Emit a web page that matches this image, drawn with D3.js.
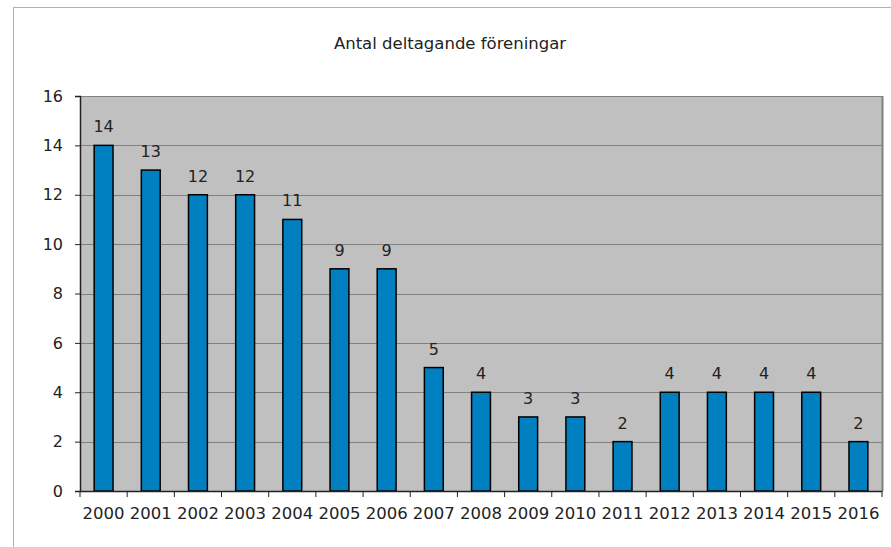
<!DOCTYPE html>
<html>
<head>
<meta charset="utf-8">
<script src="https://cdn.jsdelivr.net/npm/d3@7"></script>
<style>
  body { margin: 0; background: #fff; }
  text { font-family: "DejaVu Sans", Verdana, sans-serif; fill: #222; }
</style>
</head>
<body>
<div id="canvas"></div>
<script>
const width = 891;
const height = 547;

// data
const years = ["2000", "2001", "2002", "2003", "2004", "2005", "2006", "2007", "2008",
  "2009", "2010", "2011", "2012", "2013", "2014", "2015", "2016"];
const counts = [14, 13, 12, 12, 11, 9, 9, 5, 4, 3, 3, 2, 4, 4, 4, 4, 2];
const yTicks = [0, 2, 4, 6, 8, 10, 12, 14, 16];
const title = "Antal deltagande föreningar";

// plot area
const plot = { left: 80, right: 882, top: 96, bottom: 491 };

const svg = d3.select('#canvas').append('svg')
  .attr('width', width)
  .attr('height', height);

// outer chart border (cut off at right and bottom)
svg.append('rect')
  .attr('x', 13.5).attr('y', 7.5)
  .attr('width', width + 10).attr('height', height + 10)
  .attr('fill', 'none')
  .attr('stroke', '#b0b0b0');

const x = d3.scaleBand()
  .domain(years)
  .range([plot.left, plot.right])
  .paddingInner(0)
  .paddingOuter(0);

const y = d3.scaleLinear()
  .domain([0, 16])
  .range([plot.bottom, plot.top]);

// plot background
svg.append('rect')
  .attr('x', plot.left).attr('y', plot.top)
  .attr('width', plot.right - plot.left)
  .attr('height', plot.bottom - plot.top)
  .attr('fill', '#c0c0c0');

// gridlines
svg.append('g').selectAll('line')
  .data(yTicks.filter(d => d > 0))
  .join('line')
  .attr('x1', plot.left).attr('x2', plot.right)
  .attr('y1', d => Math.round(y(d)) + 0.5)
  .attr('y2', d => Math.round(y(d)) + 0.5)
  .attr('stroke', '#808080')
  .attr('stroke-width', 1);

// right border of plot area
svg.append('line')
  .attr('x1', plot.right + 0.5).attr('x2', plot.right + 0.5)
  .attr('y1', plot.top).attr('y2', plot.bottom)
  .attr('stroke', '#808080')
  .attr('stroke-width', 2);

// bars: gap width 150%
const barW = x.bandwidth() / 2.5;
svg.append('g').selectAll('rect')
  .data(counts)
  .join('rect')
  .attr('x', (d, i) => x(years[i]) + (x.bandwidth() - barW) / 2)
  .attr('y', d => y(d))
  .attr('width', barW)
  .attr('height', d => plot.bottom - y(d))
  .attr('fill', '#0080c0')
  .attr('stroke', '#000')
  .attr('stroke-width', 1.5);

// value labels
svg.append('g').selectAll('text')
  .data(counts)
  .join('text')
  .attr('x', (d, i) => x(years[i]) + x.bandwidth() / 2)
  .attr('y', d => y(d) - 13)
  .attr('text-anchor', 'middle')
  .style('font-size', '16px')
  .text(d => d);

// y axis
const yAxis = svg.append('g')
  .attr('transform', `translate(${plot.left},0)`)
  .call(d3.axisLeft(y).tickValues(yTicks).tickSize(5).tickPadding(12));
yAxis.select('.domain').attr('stroke', '#222').attr('stroke-width', 1.5);
yAxis.selectAll('.tick line').attr('stroke', '#222');
yAxis.selectAll('.tick text').style('font-size', '16px').attr('fill', '#222');

// x axis with ticks at category boundaries
const xAxis = svg.append('g')
  .attr('transform', `translate(0,${plot.bottom})`)
  .call(d3.axisBottom(x).tickSize(0).tickPadding(16));
xAxis.select('.domain').attr('stroke', '#222').attr('stroke-width', 1.5);
xAxis.selectAll('.tick text').style('font-size', '16.5px').attr('fill', '#222');
xAxis.append('g').selectAll('line')
  .data(years.concat(['end']))
  .join('line')
  .attr('x1', (d, i) => plot.left + i * x.bandwidth())
  .attr('x2', (d, i) => plot.left + i * x.bandwidth())
  .attr('y1', 0).attr('y2', 6)
  .attr('stroke', '#222');

// title
svg.append('text')
  .attr('x', 450)
  .attr('y', 49)
  .attr('text-anchor', 'middle')
  .style('font-size', '16.5px')
  .text(title);
</script>
</body>
</html>
